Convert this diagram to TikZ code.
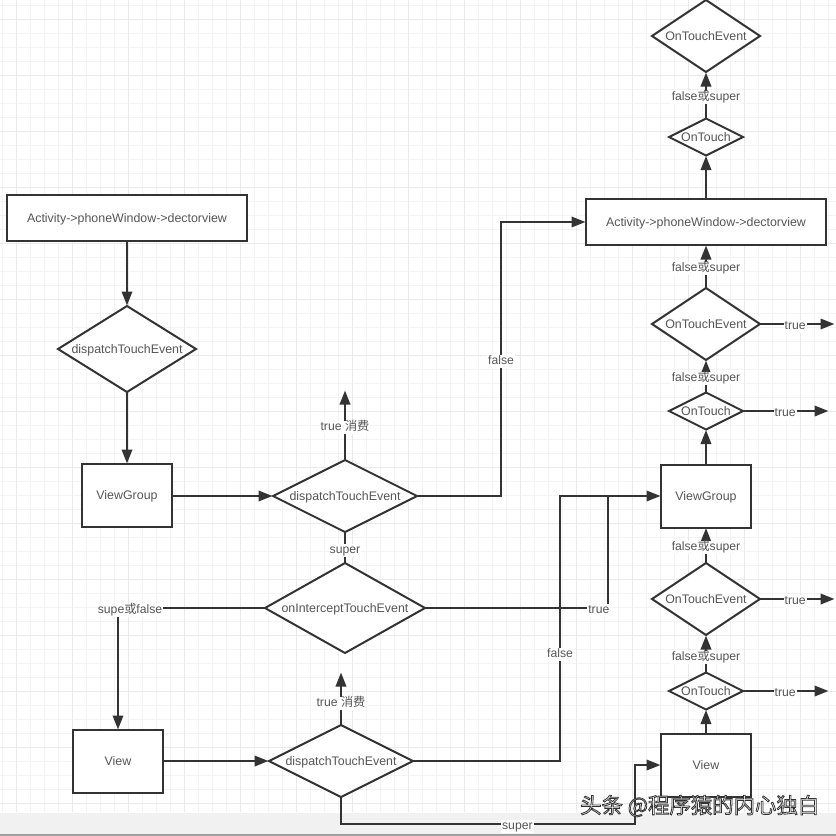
\documentclass[tikz,border=0pt]{standalone}
\usepackage{fontspec}
\setmainfont{Liberation Sans}
\newfontfamily\cjk{Noto Sans CJK SC}
\usetikzlibrary{shapes.geometric,arrows.meta}
\definecolor{ink}{HTML}{333333}
\definecolor{txt}{HTML}{555555}
\definecolor{gridminor}{HTML}{F3F3F3}
\definecolor{gridmajor}{HTML}{E9E9E9}
\definecolor{band}{HTML}{F1F1F1}
\tikzset{
  base/.style={draw=ink,line width=2pt,fill=white,text=txt,font=\fontsize{12.4}{14}\selectfont,inner sep=0,outer sep=0,text height=8pt,text depth=0pt},
  boxnode/.style={base,rectangle,minimum width=#1,minimum height=63},
  widebox/.style={base,rectangle,minimum width=240,minimum height=46},
  dia/.style n args={2}{base,diamond,minimum width=#1,minimum height=#2},
  link/.style={draw=ink,line width=2pt,-{Triangle[length=14pt,width=10.5pt]},shorten >=0.5pt},
  plain/.style={draw=ink,line width=2pt},
  lab/.style={fill=white,text=txt,font=\fontsize{12.2}{14}\selectfont,inner sep=1pt,text height=8.5pt,text depth=2.5pt,yshift=-2pt},
}
\newcommand{\ct}[1]{\makebox[0pt]{#1}}
\begin{document}
\begin{tikzpicture}[x=1pt,y=-1pt]
\useasboundingbox (0,0) rectangle (836,836);
\fill[white] (0,0) rectangle (836,836);
% grid
\foreach \i in {0,...,59}{
  \draw[gridminor,line width=1pt] ({2.7+14*\i},0) -- ({2.7+14*\i},812);
  \draw[gridminor,line width=1pt] (0,{5+14*\i}) -- (836,{5+14*\i});
}
\fill[white] (0,812) rectangle (836,836);
\foreach \i in {0,...,14}{
  \draw[gridmajor,line width=1pt] ({16.7+56*\i},0) -- ({16.7+56*\i},812);
  \draw[gridmajor,line width=1pt] (0,{19+56*\i}) -- (836,{19+56*\i});
}
\fill[band] (0,813) rectangle (836,834);
\fill[gray!75] (0,834) rectangle (836,836);
% left column
\node[widebox] (actL) at (127,218) {Activity->phoneWindow->dectorview};
\node[dia={138}{86}] (dL) at (127,349) {\ct{dispatchTouchEvent}};
\node[boxnode=90] (vgL) at (127,495.5) {ViewGroup};
\node[dia={144}{72}] (dM) at (345,496) {\ct{dispatchTouchEvent}};
\node[dia={160}{90}] (iM) at (345,608) {\ct{onInterceptTouchEvent}};
\node[boxnode=90] (vL) at (118,761.5) {View};
\node[dia={144}{72}] (dB) at (341,761) {\ct{dispatchTouchEvent}};
% right column
\node[dia={108}{72}] (oe1) at (706,36) {\ct{OnTouchEvent}};
\node[dia={74}{37}] (ot1) at (706,137) {\ct{OnTouch}};
\node[widebox] (actR) at (706,222) {Activity->phoneWindow->dectorview};
\node[dia={108}{72}] (oe2) at (706,324) {\ct{OnTouchEvent}};
\node[dia={74}{37}] (ot2) at (706,411) {\ct{OnTouch}};
\node[boxnode=90] (vgR) at (706,496) {ViewGroup};
\node[dia={108}{72}] (oe3) at (706,599) {\ct{OnTouchEvent}};
\node[dia={74}{37}] (ot3) at (706,691) {\ct{OnTouch}};
\node[boxnode=90] (vR) at (706,765) {View};
% free ends
\coordinate (upM) at (345,390);
\coordinate (upB) at (341,672);
\coordinate (e2) at (835,324);
\coordinate (t2) at (829,411);
\coordinate (e3) at (835,599);
\coordinate (t3) at (829,691);
% left connectors
\draw[link] (actL) -- (dL);
\draw[link] (dL) -- (vgL);
\draw[link] (vgL.east |- dM.west) -- (dM.west);
\draw[link] (dM.north) -- node[lab,pos=.49] {true {\cjk 消费}} (upM);
\draw[plain] (dM) -- node[lab,pos=.52] {super} (iM);
\draw[link] (dM.east) -- (501,496) -- node[lab,pos=.5] {false} (501,222) -- (actR.west);
\draw[link] (iM.west) -- node[lab,pos=.918] {supe{\cjk 或}false} (118,608) -- (vL.north);
\draw[plain] (iM.east) -- node[lab,pos=.95] {true} (608,608) -- (608,496);
\draw[link] (vL.east |- dB.west) -- (dB.west);
\draw[link] (dB.north) -- node[lab,pos=.45] {true {\cjk 消费}} (upB);
\draw[link] (dB.east) -- (560,761) -- node[lab,pos=.41] {false} (560,496) -- (vgR.west);
\draw[link] (dB.south) -- (341,824) -- node[lab,pos=.6] {super} (635,824) -- (635,765) -- (vR.west);
% right connectors
\draw[link] (vR) -- (ot3);
\draw[link] (ot3) -- node[lab,pos=.45] {false{\cjk 或}super} (oe3);
\draw[link] (oe3) -- node[lab] {false{\cjk 或}super} (vgR);
\draw[link] (vgR) -- (ot2);
\draw[link] (ot2) -- node[lab] {false{\cjk 或}super} (oe2);
\draw[link] (oe2) -- node[lab] {false{\cjk 或}super} (actR);
\draw[link] (actR) -- (ot1);
\draw[link] (ot1) -- node[lab,pos=.5] {false{\cjk 或}super} (oe1);
\draw[link] (oe2.east) -- node[lab,pos=.47] {true} (e2);
\draw[link] (ot2.east) -- node[lab,pos=.49] {true} (t2);
\draw[link] (oe3.east) -- node[lab,pos=.47] {true} (e3);
\draw[link] (ot3.east) -- node[lab,pos=.49] {true} (t3);
% watermark
\node[text=white,inner sep=0,anchor=west,font=\cjk\fontsize{21.4}{25}\selectfont] (wm) at (580,806) {\special{pdf:code q 2 Tr 0.8 w 0.2 G 1 g}头条 @程序猿的内心独白\special{pdf:code Q}};
\end{tikzpicture}
\end{document}
